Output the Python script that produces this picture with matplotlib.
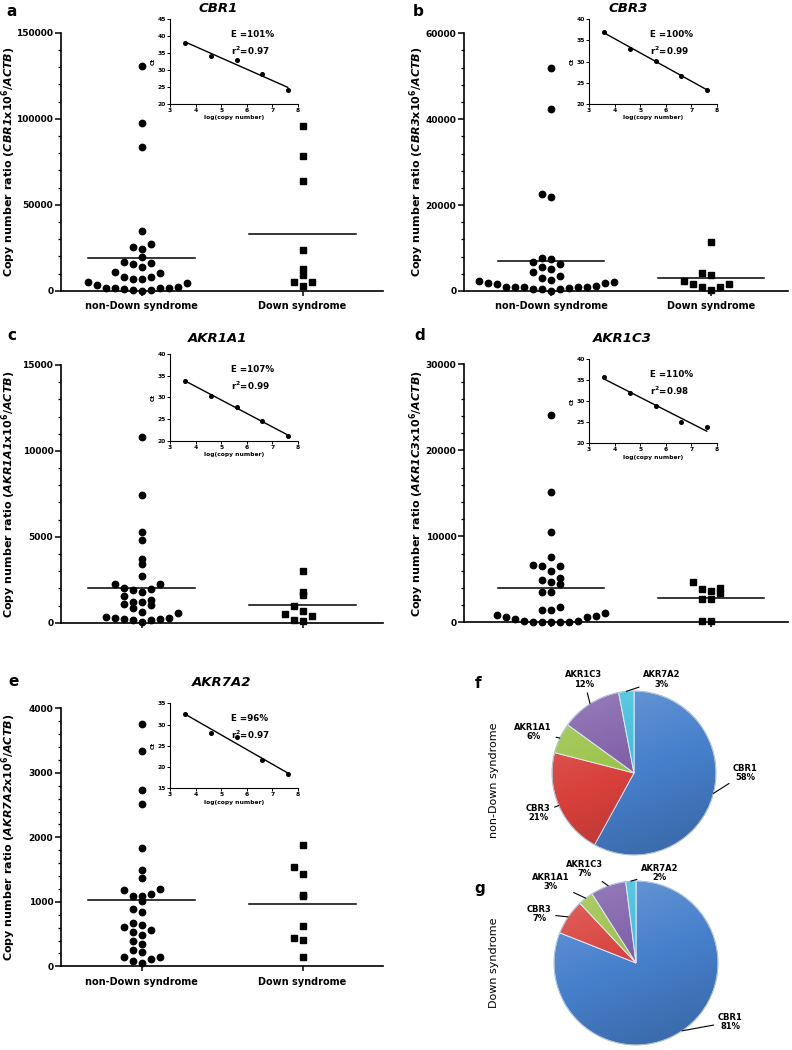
import numpy as np
import matplotlib
matplotlib.use('Agg')
import matplotlib.pyplot as plt
from matplotlib.ticker import MultipleLocator
from matplotlib.patches import Circle

plt.rcParams['font.family'] = ['DejaVu Sans']
plt.rcParams['mathtext.fontset'] = 'dejavusans'

# ---------------- data ----------------
groups = ['non-Down syndrome', 'Down syndrome']
genes = ['CBR1', 'CBR3', 'AKR1A1', 'AKR1C3', 'AKR7A2']

cbr1_nds = [130800, 97700, 83500, 34900, 24400, 25600, 27100, 19800, 15900, 14000,
            15500, 16700, 10700, 8100, 6600, 6600, 7800, 10100, 4800, 4300,
            2300, 1700, 1600, 400, 0, 300, 900, 1700, 1700, 3100]
cbr1_ds = [95700, 78100, 63800, 23600, 12800, 8900, 5200, 4800, 2900]

cbr3_nds = [51900, 42400, 21800, 22700, 7400, 7600, 6800, 6200, 5200, 5600,
            4500, 3600, 2600, 2300, 3100, 2100, 1600, 1800, 1900, 1160,
            1010, 850, 850, 540, 0, 540, 540, 700, 850, 1010]
cbr3_ds = [11400, 4100, 3800, 1600, 850, 230, 850, 1600, 2300]

akr1a1_nds = [10830, 7450, 5260, 4790, 3420, 3710, 2720, 2040, 2230, 2230,
              1980, 1880, 1570, 1800, 1320, 1200, 1050, 870, 1100, 1220,
              580, 290, 210, 140, 40, 140, 190, 290, 310, 600]
akr1a1_ds = [3010, 1800, 1630, 990, 660, 390, 520, 120, 170]

akr1c3_nds = [24070, 15120, 10540, 7600, 6550, 6000, 6550, 6630, 4920, 4450,
              4720, 5120, 3490, 3490, 1810, 1430, 1430, 1100, 850, 730,
              580, 190, 70, 40, 40, 40, 40, 120, 350, 650]
akr1c3_ds = [4650, 3640, 3910, 4030, 3450, 2750, 2750, 150, 150]

akr7a2_nds = [3752, 3333, 2734, 2517, 1840, 1494, 1375, 1121, 1090, 1189,
              1194, 1096, 1018, 894, 837, 672, 605, 532, 563, 641,
              486, 393, 346, 258, 227, 150, 119, 47, 88, 150]
akr7a2_ds = [1881, 1540, 1432, 1101, 1085, 625, 444, 413, 140]

y_max = [150000, 60000, 15000, 30000, 4000]
y_major = [50000, 20000, 5000, 10000, 1000]
y_minor = [10000, 4000, 1000, 2000, 200]

log_copy = [3.6, 4.6, 5.6, 6.6, 7.6]
ct_cbr1 = [38.0, 34.2, 32.8, 28.7, 24.1]
ct_cbr3 = [36.9, 33.05, 30.1, 26.7, 23.4]
ct_akr1a1 = [33.9, 30.3, 27.8, 24.7, 21.2]
ct_akr1c3 = [35.8, 32.0, 28.8, 25.0, 23.8]
ct_akr7a2 = [32.4, 28.1, 27.0, 21.6, 18.4]
inset_ylim = [(20, 45), (20, 40), (20, 40), (20, 40), (15, 35)]
efficiency = ['101%', '100%', '107%', '110%', '96%']
r_squared = ['0.97', '0.99', '0.99', '0.98', '0.97']

pie_labels = ['CBR1', 'CBR3', 'AKR1A1', 'AKR1C3', 'AKR7A2']
share_nds = [58, 21, 6, 12, 3]
share_ds = [81, 7, 3, 7, 2]
pie_colors = ['#4680CC', '#D8403B', '#9AC247', '#7E5DA8', '#3CBFD9']

nds_data = [cbr1_nds, cbr3_nds, akr1a1_nds, akr1c3_nds, akr7a2_nds]
ds_data = [cbr1_ds, cbr3_ds, akr1a1_ds, akr1c3_ds, akr7a2_ds]
ct_data = [ct_cbr1, ct_cbr3, ct_akr1a1, ct_akr1c3, ct_akr7a2]

# ---------------- layout ----------------
W, H = 792, 1050
fig = plt.figure(figsize=(W / 100, H / 100), dpi=100)


def px_axes(x0, x1, ytop, ybot):
    return fig.add_axes([x0 / W, 1 - ybot / H, (x1 - x0) / W, (ybot - ytop) / H])


def ftext(x, y, s, **kw):
    return fig.text(x / W, 1 - y / H, s, **kw)


main_boxes = [(61, 383, 32.7, 290.7), (464, 788, 33.3, 291.0),
              (61, 383, 365.0, 622.7), (464, 788, 364.3, 622.3),
              (61, 383, 708.3, 966.3)]
main_xlim = [(-0.5, 1.5), (-0.544, 1.48), (-0.5, 1.5), (-0.544, 1.48), (-0.5, 1.5)]
inset_boxes = [(170, 298, 19, 104), (589, 717, 19, 104),
               (170, 298, 354, 441), (589, 717, 359.3, 443.3),
               (170, 298, 703.3, 788.3)]
title_pos = [(218, 9), (628, 9), (218, 338), (622, 338), (222, 683)]
letter_pos = [('a', 12, 11), ('b', 418, 11), ('c', 12, 335), ('d', 420, 335),
              ('e', 14, 681)]
ylab_x = [9, 417, 9, 417, 9]
show_xlabels = [True, True, False, False, True]


def swarm_x(ax, values, xc, step_px=9.0, bin_px=10.0):
    vals = np.asarray(values, float)
    pts = ax.transData.transform(np.column_stack([np.full_like(vals, xc), vals]))
    y0 = ax.transData.transform((xc, 0))[1]
    xpx = ax.transData.transform((xc + 1, 0))[0] - ax.transData.transform((xc, 0))[0]
    step = step_px / xpx
    bins = np.floor((pts[:, 1] - y0) / bin_px).astype(int)
    xs = np.full_like(vals, xc)
    for b in np.unique(bins):
        idx = np.where(bins == b)[0]
        idx = idx[np.argsort(vals[idx], kind='stable')]
        for j, i in enumerate(idx):
            k = (j + 1) // 2 * (-1 if j % 2 == 1 else 1)
            xs[i] = xc + k * step
    return xs


for p in range(5):
    ax = px_axes(*main_boxes[p])
    ax.set_xlim(*main_xlim[p])
    ax.set_ylim(0, y_max[p])
    for s in ['top', 'right']:
        ax.spines[s].set_visible(False)
    for s in ['left', 'bottom']:
        ax.spines[s].set_linewidth(1.2)
    ax.yaxis.set_major_locator(MultipleLocator(y_major[p]))
    ax.yaxis.set_minor_locator(MultipleLocator(y_minor[p]))
    ax.tick_params(axis='y', which='major', length=4, width=1.1, pad=1.5, labelsize=6.5)
    ax.tick_params(axis='y', which='minor', length=2.2, width=0.9)
    ax.tick_params(axis='x', which='major', length=3.5, width=1.1, pad=4, labelsize=7)
    ax.set_xticks([0, 1])
    if show_xlabels[p]:
        ax.set_xticklabels(groups)
    else:
        ax.set_xticklabels(['', ''])
    for lab in ax.get_yticklabels() + ax.get_xticklabels():
        lab.set_fontweight('bold')

    for g, (vals, mk, ms) in enumerate([(nds_data[p], 'o', 4.6), (ds_data[p], 's', 4.6)]):
        xs = swarm_x(ax, vals, g)
        ax.plot(xs, vals, linestyle='none', marker=mk, ms=ms, color='black',
                mec='black', clip_on=False, zorder=3)
        m = np.mean(vals)
        ax.plot([g - 0.33, g + 0.33], [m, m], color='black', lw=1.1, zorder=2)

    gname = genes[p]
    ftext(title_pos[p][0], title_pos[p][1], gname, ha='center', va='center',
          fontsize=9.5, fontweight='bold', fontstyle='italic')
    L = letter_pos[p]
    ftext(L[1], L[2], L[0], ha='center', va='center', fontsize=11, fontweight='bold')
    ylab = (r'Copy number ratio ($\mathbfit{%s}$x10$^{\mathbf{6}}$/$\mathbfit{ACTB}$)' % gname)
    ybox = main_boxes[p]
    ftext(ylab_x[p], (ybox[2] + ybox[3]) / 2, ylab, rotation=90, ha='center',
          va='center', fontsize=8, fontweight='bold')

    # inset standard curve
    ai = px_axes(*inset_boxes[p])
    ai.set_xlim(3, 8)
    ai.set_ylim(*inset_ylim[p])
    for s in ['top', 'right']:
        ai.spines[s].set_visible(False)
    for s in ['left', 'bottom']:
        ai.spines[s].set_linewidth(0.8)
    ai.xaxis.set_major_locator(MultipleLocator(1))
    ai.yaxis.set_major_locator(MultipleLocator(5))
    ai.tick_params(length=2, width=0.7, pad=1, labelsize=4.3)
    for lab in ai.get_yticklabels() + ai.get_xticklabels():
        lab.set_fontweight('bold')
    ai.patch.set_alpha(0)
    xs = np.asarray(log_copy)
    ys = np.asarray(ct_data[p])
    ai.plot(xs, ys, 'o', ms=2.6, color='black', clip_on=False)
    slope, icpt = np.polyfit(xs, ys, 1)
    ai.plot([xs[0], xs[-1]], [slope * xs[0] + icpt, slope * xs[-1] + icpt],
            color='black', lw=1.0)
    ai.set_xlabel('log(copy number)', fontsize=4.3, fontweight='bold', labelpad=1.5)
    ai.set_ylabel('Ct', fontsize=4.3, fontweight='bold', labelpad=1)
    ai.text(0.48, 0.82, 'E =' + efficiency[p], transform=ai.transAxes,
            fontsize=6.3, fontweight='bold', ha='left', va='center')
    ai.text(0.48, 0.63, r'r$^{\mathbf{2}}$=' + r_squared[p], transform=ai.transAxes,
            fontsize=6.3, fontweight='bold', ha='left', va='center')


# ---------------- pies ----------------
R_PX = 82


def draw_pie(cx, cy, shares, label_xy):
    half = 1.6 * R_PX
    ax = px_axes(cx - half, cx + half, cy - half, cy + half)
    wedges, _ = ax.pie(shares, colors=pie_colors, startangle=90, counterclock=False,
                       radius=1.0, wedgeprops=dict(edgecolor='#DDE8F5', linewidth=0.7))
    # shading overlay for a 3-D look
    n = 200
    yy, xx = np.mgrid[1:-1:n * 1j, -1:1:n * 1j]
    shade = np.zeros((n, n, 4))
    t = (xx * 0.35 - yy * 0.9)
    a = np.clip(t, -1, 1)
    shade[..., :3] = np.where(a[..., None] < 0, 1.0, 0.0)
    shade[..., 3] = np.abs(a) * 0.17
    im = ax.imshow(shade, extent=(-1, 1, -1, 1), zorder=5, interpolation='bilinear')
    im.set_clip_path(Circle((0, 0), 1.0, transform=ax.transData))
    ax.add_patch(Circle((0, 0), 1.0, fill=False, ec='#A8BCD6', lw=0.6, zorder=6))
    ax.set_xlim(-1.6, 1.6)
    ax.set_ylim(-1.6, 1.6)
    ax.set_aspect('equal')
    ax.axis('off')
    for w, lab, s, (lx, ly) in zip(wedges, pie_labels, shares, label_xy):
        ang = np.deg2rad((w.theta1 + w.theta2) / 2)
        ex, ey = np.cos(ang), np.sin(ang)
        ax.annotate('%s\n%d%%' % (lab, s), xy=(ex, ey), xytext=(lx, ly),
                    ha='center', va='center', fontsize=6, fontweight='bold',
                    linespacing=1.05, zorder=8,
                    arrowprops=dict(arrowstyle='-', lw=0.8, color='black',
                                    shrinkA=1, shrinkB=0))
    return ax


draw_pie(634, 773, share_nds,
         [(1.36, 0.0), (-1.17, -0.49), (-1.23, 0.50), (-0.61, 1.14), (0.34, 1.14)])
draw_pie(636, 963, share_ds,
         [(1.15, -0.72), (-1.18, 0.60), (-1.04, 0.99), (-0.63, 1.15), (0.29, 1.10)])

ftext(494, 780, 'non-Down syndrome', rotation=90, ha='center', va='center', fontsize=8)
ftext(494, 963, 'Down syndrome', rotation=90, ha='center', va='center', fontsize=8)
ftext(478, 683, 'f', ha='center', va='center', fontsize=11, fontweight='bold')
ftext(480, 888, 'g', ha='center', va='center', fontsize=11, fontweight='bold')

fig.savefig('out.png', dpi=100)
